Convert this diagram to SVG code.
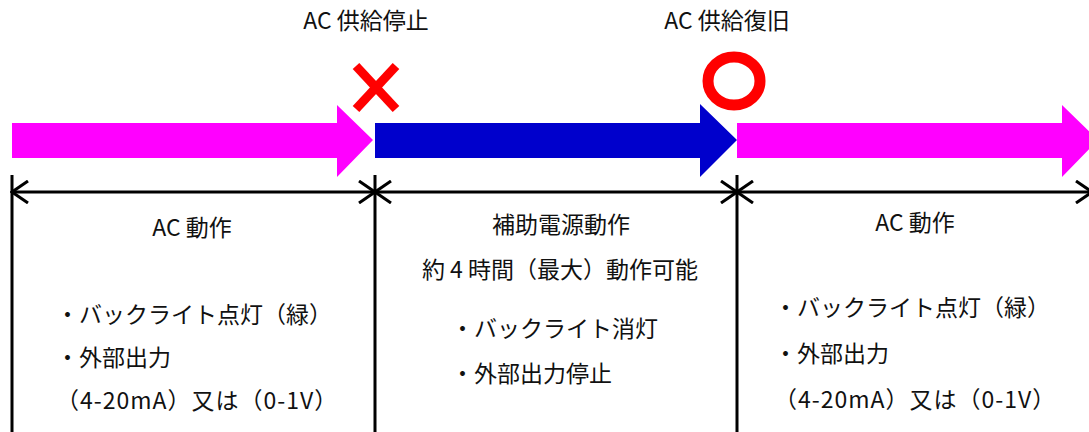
<svg xmlns="http://www.w3.org/2000/svg" width="1089" height="432" viewBox="0 0 1089 432">
<style>
text{font-family:"Noto Sans CJK JP","Noto Sans",sans-serif;font-size:23px;fill:#111;}
.c{text-anchor:middle;}
.w{letter-spacing:1px;}
.dim{stroke:#000;stroke-width:3;fill:none;}
</style>
<defs>
<marker id="chev" viewBox="0 0 20 24" refX="18" refY="12" markerWidth="20" markerHeight="24" orient="auto-start-reverse" markerUnits="userSpaceOnUse">
<path d="M2,1 L18,12 L2,23" fill="none" stroke="#000" stroke-width="3"/>
</marker>
</defs>
<rect width="1089" height="432" fill="#fff"/>
<g id="arrows">
<polygon id="arrow-ac1" points="12,123 337,123 337,105 373,140 337,177 337,158 12,158" fill="#FF00FF"/>
<polygon id="arrow-aux" points="375,123 700,123 700,104 737,140 700,177 700,158 375,158" fill="#0000CC"/>
<polygon id="arrow-ac2" points="737,123 1062,123 1062,105 1098,140 1062,177 1062,158 737,158" fill="#FF00FF"/>
</g>
<g id="mark-stop">
<line x1="356" y1="66" x2="396" y2="109" stroke="#FF0000" stroke-width="9"/>
<line x1="396" y1="66" x2="356" y2="109" stroke="#FF0000" stroke-width="9"/>
<text class="c" x="366" y="29">AC 供給停止</text>
</g>
<g id="mark-restore">
<ellipse cx="734" cy="81" rx="26" ry="24" fill="none" stroke="#FF0000" stroke-width="11"/>
<text class="c" x="727" y="29">AC 供給復旧</text>
</g>
<g id="connectors">
<line class="dim" x1="12" y1="175" x2="12" y2="432"/>
<line class="dim" x1="375" y1="175" x2="375" y2="432"/>
<line class="dim" x1="737" y1="175" x2="737" y2="432"/>
<line class="dim" x1="12" y1="192" x2="375" y2="192" marker-start="url(#chev)" marker-end="url(#chev)"/>
<line class="dim" x1="375" y1="192" x2="737" y2="192" marker-start="url(#chev)" marker-end="url(#chev)"/>
<line class="dim" x1="737" y1="192" x2="1092" y2="192" marker-start="url(#chev)" marker-end="url(#chev)"/>
</g>
<g id="phase-ac1">
<text class="c" x="192" y="236">AC 動作</text>
<text x="56" y="323">・バックライト点灯（緑）</text>
<text x="56" y="366">・外部出力</text>
<text class="w" x="56" y="409">（4-20mA）又は（0-1V）</text>
</g>
<g id="phase-aux">
<text class="c" x="561" y="233">補助電源動作</text>
<text class="c" x="560" y="278">約 4 時間（最大）動作可能</text>
<text x="451" y="337">・バックライト消灯</text>
<text x="451" y="382">・外部出力停止</text>
</g>
<g id="phase-ac2">
<text class="c" x="915" y="231">AC 動作</text>
<text x="774" y="316">・バックライト点灯（緑）</text>
<text x="774" y="362">・外部出力</text>
<text class="w" x="774" y="408">（4-20mA）又は（0-1V）</text>
</g>
</svg>
